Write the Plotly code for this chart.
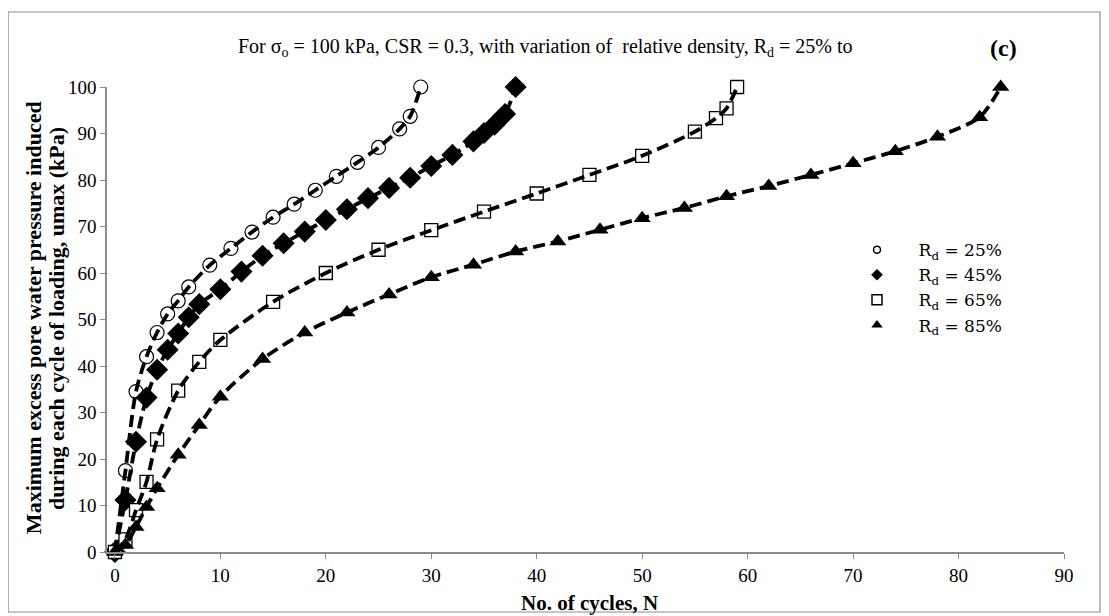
import plotly.graph_objects as go

# ---- data ----
n_25 = [0, 1, 2, 3, 4, 5, 6, 7, 9, 11, 13, 15, 17, 19, 21, 23, 25, 27, 28, 29]
u_25 = [0, 17.5, 34.5, 42, 47.2, 51.2, 54, 57, 61.7, 65.3, 68.8, 72, 74.8, 77.8, 80.8, 83.8, 87, 91, 93.7, 100]

n_45 = [0, 1, 2, 3, 4, 5, 6, 7, 8, 10, 12, 14, 16, 18, 20, 22, 24, 26, 28, 30, 32, 34, 35, 36, 37, 38]
u_45 = [0, 11.2, 23.7, 33.2, 39.2, 43.5, 47, 50.5, 53.3, 56.5, 60.3, 63.7, 66.4, 68.9, 71.4, 73.7, 76.1, 78.3, 80.5, 83, 85.4, 88.3, 90.1, 91.9, 94.2, 100]

n_65 = [0, 1, 2, 3, 4, 6, 8, 10, 15, 20, 25, 30, 35, 40, 45, 50, 55, 57, 58, 59]
u_65 = [0, 2.7, 9, 15.1, 24.2, 34.7, 40.9, 45.6, 53.8, 60, 65, 69.2, 73.2, 77.1, 81.1, 85.2, 90.4, 93.3, 95.4, 100]

n_85 = [0, 1, 2, 3, 4, 6, 8, 10, 14, 18, 22, 26, 30, 34, 38, 42, 46, 50, 54, 58, 62, 66, 70, 74, 78, 82, 84]
u_85 = [0, 1.5, 5.4, 9.7, 13.7, 20.9, 27.3, 33.4, 41.5, 47.2, 51.5, 55.4, 59.1, 61.8, 64.6, 66.8, 69.3, 71.8, 74, 76.5, 78.7, 81.1, 83.6, 86.2, 89.3, 93.5, 100]

series_names = ["R<sub>d</sub> = 25%", "R<sub>d</sub> = 45%", "R<sub>d</sub> = 65%", "R<sub>d</sub> = 85%"]
x_ticks = [0, 10, 20, 30, 40, 50, 60, 70, 80, 90]
y_ticks = [0, 10, 20, 30, 40, 50, 60, 70, 80, 90, 100]

title_text = "For σ<sub>o</sub> = 100 kPa, CSR = 0.3, with variation of  relative density, R<sub>d</sub> = 25% to"
x_title = "No. of cycles, N"
y_title_1 = "Maximum excess pore water pressure induced"
y_title_2 = "during each cycle of loading, umax (kPa)"

# ---- styles ----
SERIF = "Liberation Serif, Times New Roman, serif"
LEG_FONT = "DejaVu Serif, serif"
marker_styles = [
    dict(symbol="circle", size=14, color="white", line=dict(color="black", width=1.2)),
    dict(symbol="diamond", size=17, color="black", line=dict(color="black", width=0)),
    dict(symbol="square", size=13, color="white", line=dict(color="black", width=1.3)),
    dict(symbol="triangle-up", size=15, color="black", line=dict(color="black", width=0)),
]
legend_marker_styles = [
    dict(symbol="circle-open", size=7, color="black", line=dict(color="black", width=1.5)),
    dict(symbol="diamond", size=9, color="black", line=dict(width=0)),
    dict(symbol="square-open", size=10, color="black", line=dict(color="black", width=1.5)),
    dict(symbol="triangle-up", size=10, color="black", line=dict(width=0)),
]
PAD = "\u00a0" * 4

xs = [n_25, n_45, n_65, n_85]
ys = [u_25, u_45, u_65, u_85]

fig = go.Figure()

# markers (drawn below lines)
for x, y, ms in zip(xs, ys, marker_styles):
    fig.add_trace(go.Scatter(x=x, y=y, mode="markers", marker=ms, showlegend=False,
                             cliponaxis=False, hoverinfo="x+y"))
# dashed smoothed lines on top
for x, y in zip(xs, ys):
    fig.add_trace(go.Scatter(x=x, y=y, mode="lines", showlegend=False, cliponaxis=False,
                             line=dict(color="black", width=3.8, dash="12px,6px",
                                       shape="spline", smoothing=0.8),
                             hoverinfo="skip"))
# legend entries
for name, ms in zip(series_names, legend_marker_styles):
    fig.add_trace(go.Scatter(x=[None], y=[None], mode="markers", name=PAD + name, marker=ms))

axis_common = dict(
    showgrid=False, zeroline=False, showline=True, linecolor="#8c8c8c", linewidth=1.5,
    ticks="outside", ticklen=5, tickcolor="#8c8c8c", tickwidth=1,
    tickfont=dict(family=SERIF, size=19, color="black"),
)

fig.update_layout(
    width=1101, height=608,
    margin=dict(l=99, r=45, t=79, b=64),
    paper_bgcolor="white", plot_bgcolor="white",
    xaxis=dict(range=[-0.75, 90], tickvals=x_ticks, **axis_common),
    yaxis=dict(range=[0, 100], tickvals=y_ticks, **axis_common),
    legend=dict(x=0.7837, y=0.688, xanchor="left", yanchor="top",
                font=dict(family=LEG_FONT, size=17, color="black"),
                bgcolor="rgba(0,0,0,0)", tracegroupgap=0),
    font=dict(family=SERIF, color="black"),
    annotations=[
        dict(text=title_text, xref="paper", yref="paper", x=0.4587, y=1.0839,
             xanchor="center", yanchor="middle",
             showarrow=False, font=dict(family=SERIF, size=20, color="black")),
        dict(text="<b>(c)</b>", xref="paper", yref="paper", x=0.9363, y=1.0839,
             xanchor="center", yanchor="middle",
             showarrow=False, font=dict(family=SERIF, size=24, color="black")),
        dict(text="<b>" + x_title + "</b>", xref="paper", yref="paper", x=0.5047, y=-0.1097,
             xanchor="center", yanchor="middle",
             showarrow=False, font=dict(family=SERIF, size=21, color="black")),
        dict(text="<b>" + y_title_1 + "</b>", xref="paper", yref="paper",
             x=-0.0773, y=0.503, xanchor="center", yanchor="middle", textangle=-90, showarrow=False,
             font=dict(family=SERIF, size=22, color="black")),
        dict(text="<b>" + y_title_2 + "</b>", xref="paper", yref="paper",
             x=-0.0533, y=0.503, xanchor="center", yanchor="middle", textangle=-90, showarrow=False,
             font=dict(family=SERIF, size=22, color="black")),
    ],
    shapes=[
        dict(type="rect", xref="paper", yref="paper", x0=-0.1034, x1=1.0376, y0=-0.129, y1=1.1613,
             line=dict(color="#8c8c8c", width=1.2), fillcolor="rgba(0,0,0,0)", layer="below"),
    ],
)

fig.write_html("out.html")
